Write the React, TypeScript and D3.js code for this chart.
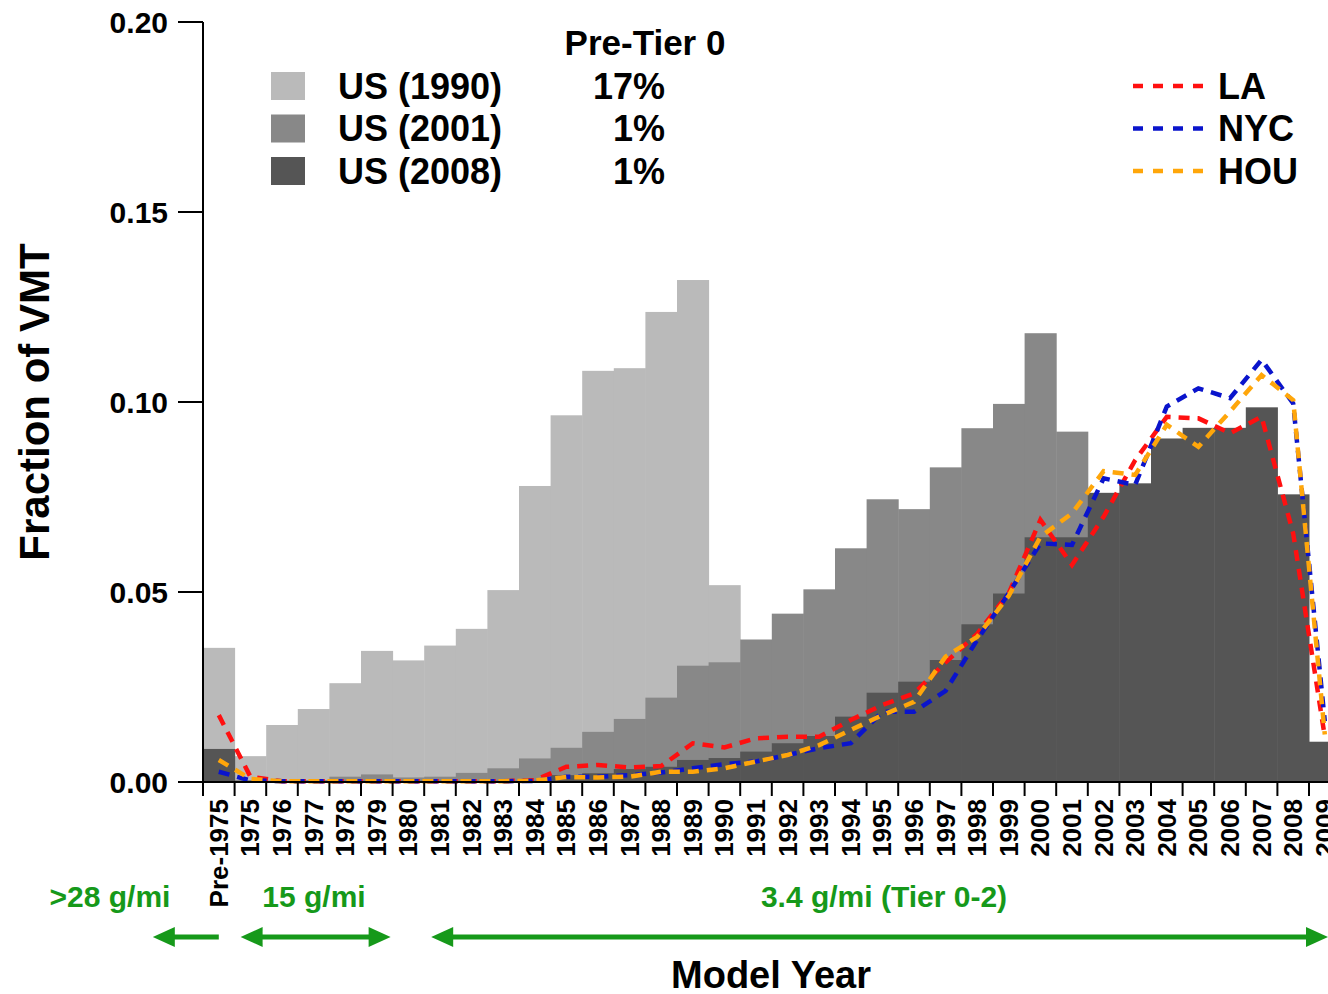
import React from "react";
import * as d3 from "d3";

// Model-year categories (first bin collects everything older than 1975)
const categories = [
  "Pre-1975", "1975", "1976", "1977", "1978", "1979", "1980", "1981", "1982",
  "1983", "1984", "1985", "1986", "1987", "1988", "1989", "1990", "1991",
  "1992", "1993", "1994", "1995", "1996", "1997", "1998", "1999", "2000",
  "2001", "2002", "2003", "2004", "2005", "2006", "2007", "2008", "2009",
];

// National fleet VMT fractions by model year
const us1990 = [
  0.0353, 0.0068, 0.015, 0.0192, 0.026, 0.0345, 0.032, 0.0359, 0.0403, 0.0505,
  0.0779, 0.0965, 0.1082, 0.1089, 0.1237, 0.1321, 0.0518, 0, 0, 0, 0, 0, 0, 0,
  0, 0, 0, 0, 0, 0, 0, 0, 0, 0, 0, 0,
];
const us2001 = [
  0.008, 0.0005, 0.0003, 0.0005, 0.0014, 0.002, 0.0012, 0.0014, 0.0024, 0.0036,
  0.0062, 0.009, 0.0132, 0.0166, 0.0222, 0.0306, 0.0315, 0.0375, 0.0443,
  0.0507, 0.0615, 0.0744, 0.0718, 0.0828, 0.0931, 0.0995, 0.1181, 0.0922, 0, 0,
  0, 0, 0, 0, 0, 0,
];
const us2008 = [
  0.0087, 0.0003, 0.0003, 0.0003, 0.0003, 0.0003, 0.0003, 0.0003, 0.0003,
  0.0003, 0.0003, 0.0018, 0.0023, 0.0034, 0.004, 0.0058, 0.0063, 0.008, 0.0102,
  0.0121, 0.0172, 0.0235, 0.0264, 0.0321, 0.0415, 0.0496, 0.0644, 0.0644,
  0.0761, 0.0786, 0.0904, 0.0932, 0.0932, 0.0986, 0.0757, 0.0106,
];

// City fleet VMT fractions by model year
const la = [
  0.0176, 0.0014, 0.0002, 0.0002, 0.0002, 0.0002, 0.0002, 0.0002, 0.0002,
  0.0002, 0.0005, 0.004, 0.0045, 0.0038, 0.0042, 0.0102, 0.0091, 0.0115,
  0.0119, 0.0119, 0.0163, 0.0203, 0.0233, 0.0315, 0.039, 0.0497, 0.069,
  0.0571, 0.0698, 0.0847, 0.0961, 0.0957, 0.0918, 0.0961, 0.0654, 0.0119,
];
const nyc = [
  0.0027, 0.0004, 0.0002, 0.0002, 0.0002, 0.0002, 0.0002, 0.0002, 0.0002,
  0.0002, 0.0003, 0.0014, 0.0014, 0.0018, 0.0025, 0.0036, 0.0047, 0.0054,
  0.0071, 0.0089, 0.0102, 0.0185, 0.0185, 0.024, 0.0374, 0.0497, 0.0628,
  0.0624, 0.0799, 0.0782, 0.0988, 0.1036, 0.101, 0.1111, 0.0996, 0.016,
];
const hou = [
  0.0058, 0.0008, 0.0002, 0.0002, 0.0002, 0.0002, 0.0002, 0.0002, 0.0002,
  0.0002, 0.0004, 0.0013, 0.0012, 0.0014, 0.0027, 0.0027, 0.0036, 0.0054,
  0.0071, 0.0097, 0.0137, 0.0176, 0.0211, 0.033, 0.0382, 0.049, 0.0645,
  0.0707, 0.0818, 0.0808, 0.094, 0.0882, 0.0975, 0.1071, 0.1005, 0.0125,
];

const yTicks = [0, 0.05, 0.1, 0.15, 0.2];

const barSeries = [
  { name: "US (1990)", values: us1990, color: "#bababa", preTier: "17%" },
  { name: "US (2001)", values: us2001, color: "#888888", preTier: "1%" },
  { name: "US (2008)", values: us2008, color: "#555555", preTier: "1%" },
];
const lineSeries = [
  { name: "LA", values: la, color: "#ff1010" },
  { name: "NYC", values: nyc, color: "#0a14cc" },
  { name: "HOU", values: hou, color: "#ffa60a" },
];

const W = 1328;
const H = 994;
const FONT = "'Liberation Sans', Arial, Helvetica, sans-serif";
const GREEN = "#16991a";

export default function App() {
  const x = d3
    .scaleBand<string>()
    .domain(categories)
    .range([203, 203 + 31.6 * categories.length])
    .padding(0);
  const y = d3.scaleLinear().domain([0, 0.2]).range([782, 22]);
  const bw = x.bandwidth();
  const y0 = y(0);

  const line = d3
    .line<number>()
    .x((_, i) => (x(categories[i]) as number) + bw / 2)
    .y((d) => y(d));

  const edges = categories.map((c) => x(c) as number);

  const arrowHead = (tipX: number, yy: number, dir: 1 | -1) => {
    const len = 22;
    const half = 10;
    return `M${tipX},${yy} L${tipX - dir * len},${yy - half} L${tipX - dir * len},${yy + half} Z`;
  };

  const arrowY = 937;
  const a1Tail = (x("Pre-1975") as number) + bw / 2;
  const a1Tip = a1Tail - 66;
  const a2L = (x("1975") as number) + 6;
  const a2R = (x("1980") as number) - 2;
  const a3L = (x("1981") as number) + 7;
  const a3R = W;

  return (
    <svg
      width={W}
      height={H}
      style={{ position: "absolute", left: 0, top: 0, background: "#fff", overflow: "hidden" }}
      fontFamily={FONT}
      fontWeight="bold"
    >
      <rect x={0} y={0} width={W} height={H} fill="#fff" />

      {/* overlapping histograms, oldest fleet at the back */}
      {barSeries.map((s) => (
        <g key={s.name}>
          {s.values.map((v, i) =>
            v > 0 ? (
              <rect
                key={i}
                x={x(categories[i]) as number}
                y={y(v)}
                width={bw + 0.5}
                height={y0 - y(v)}
                fill={s.color}
              />
            ) : null
          )}
        </g>
      ))}

      {/* city curves */}
      {lineSeries.map((s) => (
        <path
          key={s.name}
          d={line(s.values) || ""}
          fill="none"
          stroke={s.color}
          strokeWidth={4.5}
          strokeDasharray="11 8"
        />
      ))}

      {/* y axis */}
      <line x1={203} x2={203} y1={y(0.2)} y2={796} stroke="#000" strokeWidth={2} />
      {yTicks.map((t) => (
        <g key={t}>
          <line x1={178} x2={203} y1={y(t)} y2={y(t)} stroke="#000" strokeWidth={2} />
          <text
            x={168}
            y={y(t)}
            textAnchor="end"
            dominantBaseline="central"
            fontSize={30}
            fill="#000"
          >
            {d3.format(".2f")(t)}
          </text>
        </g>
      ))}
      <text
        transform={`translate(34, 402) rotate(-90)`}
        textAnchor="middle"
        dominantBaseline="central"
        fontSize={42}
        fill="#000"
      >
        Fraction of VMT
      </text>

      {/* x axis */}
      <line x1={203} x2={W} y1={y0} y2={y0} stroke="#000" strokeWidth={2} />
      {edges.map((e, i) => (
        <line key={i} x1={e} x2={e} y1={y0} y2={796} stroke="#000" strokeWidth={2} />
      ))}
      {categories.map((c) => (
        <text
          key={c}
          transform={`translate(${(x(c) as number) + bw / 2}, 799) rotate(-90)`}
          textAnchor="end"
          dominantBaseline="central"
          fontSize={26}
          fill="#000"
        >
          {c}
        </text>
      ))}
      <text x={771} y={988} textAnchor="middle" fontSize={38} fill="#000">
        Model Year
      </text>

      {/* emission standard periods */}
      <g fill={GREEN} fontSize={30}>
        <text x={110} y={896} textAnchor="middle" dominantBaseline="central">
          {">28 g/mi"}
        </text>
        <text x={314} y={896} textAnchor="middle" dominantBaseline="central">
          15 g/mi
        </text>
        <text x={884} y={896} textAnchor="middle" dominantBaseline="central">
          3.4 g/mi (Tier 0-2)
        </text>
      </g>
      <g stroke={GREEN} fill={GREEN}>
        <line x1={a1Tail} x2={a1Tip + 18} y1={arrowY} y2={arrowY} strokeWidth={5} />
        <path d={arrowHead(a1Tip, arrowY, -1)} stroke="none" />
        <line x1={a2L + 18} x2={a2R - 18} y1={arrowY} y2={arrowY} strokeWidth={5} />
        <path d={arrowHead(a2L, arrowY, -1)} stroke="none" />
        <path d={arrowHead(a2R, arrowY, 1)} stroke="none" />
        <line x1={a3L + 18} x2={a3R - 18} y1={arrowY} y2={arrowY} strokeWidth={5} />
        <path d={arrowHead(a3L, arrowY, -1)} stroke="none" />
        <path d={arrowHead(a3R, arrowY, 1)} stroke="none" />
      </g>

      {/* fleet legend */}
      <text x={645} y={42} textAnchor="middle" dominantBaseline="central" fontSize={35} fill="#000">
        Pre-Tier 0
      </text>
      {barSeries.map((s, i) => {
        const cy = 86 + i * 42.5;
        return (
          <g key={s.name}>
            <rect x={271} y={cy - 14} width={34} height={28} fill={s.color} />
            <text x={338} y={cy} dominantBaseline="central" fontSize={36} fill="#000">
              {s.name}
            </text>
            <text x={665} y={cy} textAnchor="end" dominantBaseline="central" fontSize={36} fill="#000">
              {s.preTier}
            </text>
          </g>
        );
      })}

      {/* city legend */}
      {lineSeries.map((s, i) => {
        const cy = 86 + i * 42.5;
        return (
          <g key={s.name}>
            <line
              x1={1133}
              x2={1203}
              y1={cy}
              y2={cy}
              stroke={s.color}
              strokeWidth={4.5}
              strokeDasharray="10 10"
            />
            <text x={1218} y={cy} dominantBaseline="central" fontSize={36} fill="#000">
              {s.name}
            </text>
          </g>
        );
      })}
    </svg>
  );
}
